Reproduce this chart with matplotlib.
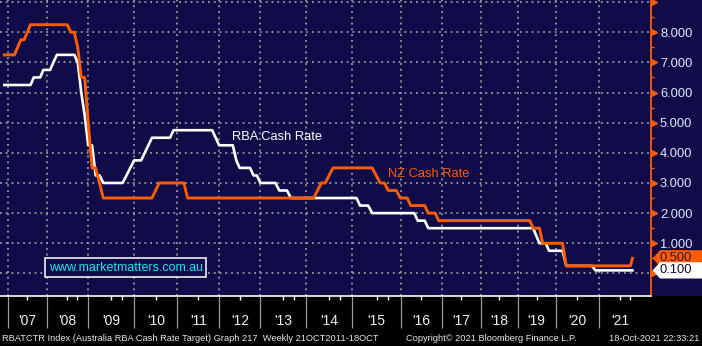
import numpy as np
import pandas as pd
import matplotlib
matplotlib.use("Agg")
import matplotlib.pyplot as plt
from matplotlib.patches import Polygon, Rectangle
from matplotlib.ticker import FixedLocator, FuncFormatter

# Cash rate decisions: effective date and new rate (%)
rba_dates = ["2006-11-08", "2007-08-08", "2007-11-07", "2008-02-06", "2008-03-05",
             "2008-09-03", "2008-10-08", "2008-11-05", "2008-12-03", "2009-02-04",
             "2009-04-08", "2009-10-07", "2009-11-04", "2009-12-02", "2010-03-03",
             "2010-04-07", "2010-05-05", "2010-11-03", "2011-11-02", "2011-12-07",
             "2012-05-02", "2012-06-06", "2012-10-03", "2012-12-05", "2013-05-08",
             "2013-08-07", "2015-02-04", "2015-05-06", "2016-05-04", "2016-08-03",
             "2019-06-05", "2019-07-03", "2019-10-02", "2020-03-04", "2020-03-19",
             "2020-11-04"]
rba_rates = [6.25, 6.5, 6.75, 7.0, 7.25, 7.0, 6.0, 5.25, 4.25, 3.25,
             3.0, 3.25, 3.5, 3.75, 4.0, 4.25, 4.5, 4.75, 4.5, 4.25,
             3.75, 3.5, 3.25, 3.0, 2.75, 2.5, 2.25, 2.0, 1.75, 1.5,
             1.25, 1.0, 0.75, 0.5, 0.25, 0.1]

nz_dates = ["2005-12-08", "2007-03-08", "2007-04-26", "2007-06-07", "2007-07-26",
            "2008-07-24", "2008-09-11", "2008-10-23", "2008-12-04", "2009-01-29",
            "2009-03-12", "2009-04-30", "2010-06-10", "2010-07-29", "2011-03-10",
            "2014-03-13", "2014-04-24", "2014-06-12", "2014-07-24", "2015-06-11",
            "2015-07-23", "2015-09-10", "2015-12-10", "2016-03-10", "2016-08-11",
            "2016-11-10", "2019-05-08", "2019-08-07", "2020-03-16", "2021-10-06"]
nz_rates = [7.25, 7.5, 7.75, 8.0, 8.25, 8.0, 7.5, 6.5, 5.0, 3.5,
            3.0, 2.5, 2.75, 3.0, 2.5, 2.75, 3.0, 3.25, 3.5, 3.25,
            3.0, 2.75, 2.5, 2.25, 2.0, 1.75, 1.5, 1.0, 0.25, 0.5]

series_start = "2006-11-24"
series_end = "2021-10-18"

label_years = list(range(2007, 2022))
year_labels = ["'07", "'08", "'09", "'10", "'11", "'12", "'13", "'14",
               "'15", "'16", "'17", "'18", "'19", "'20", "'21"]

NAVY = "#100c4a"
ORANGE = "#ff5c00"
GRID = "#9c9c9c"
LABEL = "#dfe9ff"
FONT = "Liberation Sans"


def decimal_year(idx):
    idx = pd.DatetimeIndex(idx)
    days = np.where(idx.is_leap_year, 366.0, 365.0)
    return idx.year + (idx.dayofyear - 1) / days


def sampled(dates, rates):
    # month-end samples of the step series, as the terminal plots it
    steps = pd.Series(rates, index=pd.to_datetime(dates))
    grid = pd.date_range(series_start, series_end, freq="MS") - pd.Timedelta(days=1)
    grid = grid[grid > pd.Timestamp(series_start)]
    grid = grid.union(pd.DatetimeIndex([series_start, series_end]))
    vals = steps.reindex(steps.index.union(grid)).ffill().reindex(grid)
    return decimal_year(grid), vals.values


# the time axis gives each calendar year its own width
edge_years = np.arange(2006, 2024)
edge_pos = np.array([-30.1, 8.3, 46.7, 88.3, 134.3, 177.3, 219.3, 260.5, 306.3,
                     352.5, 400.5, 442.3, 480.5, 517.5, 555.5, 599.3, 641.0, 683.0])


def fwd(x):
    return np.interp(x, edge_years, edge_pos)


def inv(p):
    return np.interp(p, edge_pos, edge_years)


plt.rcParams["font.family"] = [FONT, "DejaVu Sans"]

fig = plt.figure(figsize=(7.02, 3.46), dpi=100, facecolor=NAVY)
fig.patches.append(Rectangle((0, 0), 1, 50 / 346, transform=fig.transFigure,
                             color="black", zorder=-1))
ax = fig.add_axes([0, 50 / 346, 651 / 702, 296 / 346])
ax.set_facecolor(NAVY)
ax.set_xscale("function", functions=(fwd, inv))
x_left, x_right = inv(0), inv(651)
ax.set_xlim(x_left, x_right)
ax.set_ylim(-0.75, 9.07)

rx, ry = sampled(rba_dates, rba_rates)
nx, ny = sampled(nz_dates, nz_rates)
ax.plot(rx, ry, color="white", lw=1.9, zorder=3)
ax.plot(nx, ny, color=ORANGE, lw=2.1, zorder=4)

ax.text(2012.31, 4.53, "RBA Cash Rate", color="white", fontsize=9.3,
        va="center", ha="left", zorder=5)
ax.text(2015.74, 3.30, "NZ Cash Rate", color=ORANGE, fontsize=9.3,
        va="center", ha="left", zorder=5)

# grid
dots = (0, (1, 2.2))
ax.grid(True, which="major", color=GRID, linestyle=dots, lw=1.3, zorder=1)

# x axis: long ticks at year boundaries, short ticks inside the year
ax.xaxis.set_major_locator(FixedLocator(edge_years[1:16]))
minor_x = [y + 0.5 for y in label_years] + [y + 0.74 for y in (2008, 2009, 2013, 2014, 2015, 2021)]
ax.xaxis.set_minor_locator(FixedLocator(minor_x))
ax.tick_params(axis="x", which="major", direction="out", length=23, width=0.9,
               color=GRID, labelbottom=False)
ax.tick_params(axis="x", which="minor", direction="out", length=3, width=1.0,
               color="white", labelbottom=False)
for yr, lab in zip(label_years, year_labels):
    xm = (yr + min(yr + 1, x_right)) / 2
    ax.text(xm, -0.085, lab, transform=ax.get_xaxis_transform(), ha="center",
            va="center", color="#f2f2f2", fontsize=10)

# y axis on the right
ax.yaxis.tick_right()
ax.yaxis.set_major_locator(FixedLocator(np.arange(0, 10)))
ax.yaxis.set_minor_locator(FixedLocator(np.arange(0.5, 9, 1.0)))
ax.yaxis.set_major_formatter(FuncFormatter(lambda v, p: f"{v:.3f}" if 1 <= v <= 8 else ""))
ax.tick_params(axis="y", which="major", length=0, pad=6.5, labelsize=9.3,
               labelcolor=LABEL)
ax.tick_params(axis="y", which="minor", length=2.5, width=1.0, color=ORANGE)
ax.plot(np.full(10, 1.0046), np.arange(0, 10), transform=ax.get_yaxis_transform(),
        marker=">", ms=5, ls="none", color=ORANGE, clip_on=False, zorder=6)

for side in ("top", "left"):
    ax.spines[side].set_visible(False)
ax.spines["bottom"].set_color("white")
ax.spines["bottom"].set_linewidth(1.2)
ax.spines["right"].set_color(ORANGE)
ax.spines["right"].set_linewidth(1.3)


# last-value tags on the right axis
def value_tag(value, face, text_color, z):
    h = 0.27
    pts = [(1.0026, value), (1.0138, value + h), (1.09, value + h),
           (1.09, value - h), (1.0138, value - h)]
    ax.add_patch(Polygon(pts, closed=True, transform=ax.get_yaxis_transform(),
                         facecolor=face, edgecolor="none", clip_on=False, zorder=z))
    ax.text(1.0128, value, f"{value:.3f}", transform=ax.get_yaxis_transform(),
            ha="left", va="center", fontsize=9.3, color=text_color,
            clip_on=False, zorder=z + 0.5)


value_tag(ny[-1], ORANGE, "#3a1400", 7)
value_tag(ry[-1], "white", "#0a0a30", 8)

ax.text(0.193, 0.096, "www.marketmatters.com.au", transform=ax.transAxes,
        ha="center", va="center", color="#20e4f4", fontsize=9, zorder=6,
        bbox=dict(boxstyle="square,pad=0.28", fc=NAVY, ec="white", lw=1.1))

# footer
fig.text(0.003, 0.021, "RBATCTR Index (Australia RBA Cash Rate Target) Graph 217  Weekly 21OCT2011-18OCT",
         color="#e6e6e6", fontsize=6.7, ha="left", va="center")
fig.text(0.579, 0.021, "Copyright\u00a9 2021 Bloomberg Finance L.P.",
         color="#e6e6e6", fontsize=6.7, ha="left", va="center")
fig.text(0.996, 0.021, "18-Oct-2021 22:33:21",
         color="#e6e6e6", fontsize=6.7, ha="right", va="center")

fig.savefig("out.png", dpi=100, facecolor=fig.get_facecolor())
